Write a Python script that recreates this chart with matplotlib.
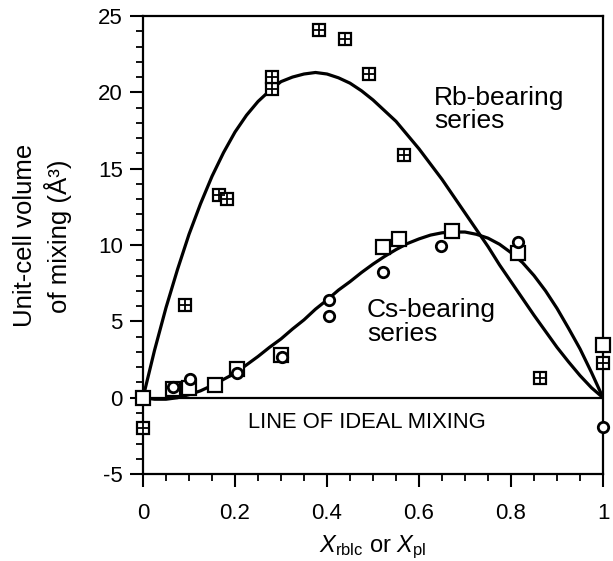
import numpy as np
import matplotlib.pyplot as plt
from matplotlib.ticker import MultipleLocator

plt.rcParams["font.family"] = ["Liberation Sans", "DejaVu Sans"]
plt.rcParams["mathtext.fontset"] = "custom"
plt.rcParams["mathtext.rm"] = "Liberation Sans"
plt.rcParams["mathtext.it"] = "Liberation Sans:italic"
plt.rcParams["axes.unicode_minus"] = False

# Rb-bearing series (crossed squares)
rb_x = [0.0, 0.0, 0.091, 0.165, 0.183, 0.28, 0.28, 0.383, 0.439, 0.491, 0.567, 0.863, 1.0]
rb_v = [0.0, -2.0, 6.1, 13.3, 13.0, 20.2, 21.0, 24.1, 23.5, 21.2, 15.9, 1.3, 2.25]

# Cs-bearing series: open squares and circles
cs_sq_x = [0.0, 0.065, 0.10, 0.157, 0.205, 0.30, 0.522, 0.557, 0.672, 0.815, 1.0]
cs_sq_v = [0.0, 0.6, 0.65, 0.85, 1.9, 2.8, 9.85, 10.4, 10.9, 9.45, 3.45]
cs_ci_x = [0.065, 0.102, 0.205, 0.302, 0.404, 0.404, 0.522, 0.648, 0.815, 1.0]
cs_ci_v = [0.7, 1.25, 1.6, 2.65, 6.4, 5.35, 8.25, 9.95, 10.2, -1.9]

# fitted mixing curves, sampled every 0.025
fit_x = [0.000, 0.025, 0.050, 0.075, 0.100, 0.125, 0.150, 0.175, 0.200, 0.225,
         0.250, 0.275, 0.300, 0.325, 0.350, 0.375, 0.400, 0.425, 0.450, 0.475,
         0.500, 0.525, 0.550, 0.575, 0.600, 0.625, 0.650, 0.675, 0.700, 0.725,
         0.750, 0.775, 0.800, 0.825, 0.850, 0.875, 0.900, 0.925, 0.950, 0.975,
         1.000]
rb_fit = [0.0, 3.1, 5.9, 8.4, 10.7, 12.7, 14.5, 16.05, 17.4, 18.5,
          19.4, 20.1, 20.7, 21.0, 21.2, 21.3, 21.2, 20.95, 20.6, 20.1,
          19.5, 18.8, 18.1, 17.2, 16.3, 15.3, 14.3, 13.2, 12.1, 11.0,
          9.9, 8.7, 7.6, 6.5, 5.4, 4.35, 3.3, 2.35, 1.45, 0.65, 0.0]
cs_fit = [0.0, -0.1, -0.1, 0.0, 0.2, 0.45, 0.8, 1.2, 1.6, 2.15,
          2.7, 3.3, 3.85, 4.5, 5.1, 5.8, 6.4, 7.05, 7.6, 8.2,
          8.75, 9.25, 9.7, 10.1, 10.4, 10.65, 10.8, 10.85, 10.85, 10.7,
          10.45, 10.05, 9.5, 8.85, 8.0, 7.0, 5.85, 4.55, 3.2, 1.65, 0.0]

fig = plt.figure(figsize=(6.13, 5.61), dpi=100)
ax = fig.add_axes([0.2333, 0.155, 0.7504, 0.8165])

# line of ideal mixing
ax.axhline(0, color="black", lw=1.6, zorder=1)

ax.plot(fit_x, rb_fit, color="black", lw=2.3, zorder=2)
ax.plot(fit_x, cs_fit, color="black", lw=2.3, zorder=2)

mk = dict(linestyle="none", color="black", clip_on=False, zorder=3)
ax.plot(rb_x, rb_v, marker="s", ms=9, mfc="white", mec="black", mew=1.6, **mk)
ax.plot(rb_x, rb_v, marker="+", ms=9, mew=1.3, **mk)
ax.plot(cs_sq_x, cs_sq_v, marker="s", ms=10, mfc="white", mec="black", mew=1.6, **mk)
ax.plot(cs_ci_x, cs_ci_v, marker="o", ms=7.5, mfc="white", mec="black", mew=2.0, **mk)

ax.text(0.633, 20.4, "Rb-bearing\nseries", fontsize=19, va="top", ha="left",
        linespacing=0.95)
ax.text(0.487, 6.5, "Cs-bearing\nseries", fontsize=19, va="top", ha="left",
        linespacing=0.95)
ax.text(0.228, -1.6, "LINE OF IDEAL MIXING", fontsize=15.8, va="center", ha="left")

ax.set_xlim(0, 1)
ax.set_ylim(-5, 25)
ax.xaxis.set_minor_locator(MultipleLocator(0.05))
ax.yaxis.set_major_locator(MultipleLocator(5))
ax.yaxis.set_minor_locator(MultipleLocator(1))
ax.set_xticks([0, 0.2, 0.4, 0.6, 0.8, 1.0])
ax.set_xticklabels(["0", "0.2", "0.4", "0.6", "0.8", "1"])

ax.tick_params(which="major", direction="out", length=9.5, width=1.5,
               labelsize=16)
ax.tick_params(axis="x", which="major", pad=11)
ax.tick_params(axis="y", which="major", pad=5)
ax.tick_params(which="minor", direction="out", length=5, width=1.3)
ax.tick_params(top=False, right=False, which="both")
for sp in ax.spines.values():
    sp.set_linewidth(1.6)

ax.set_xlabel(r"$X_{\rm rblc}$ or $X_{\rm pl}$", fontsize=17)
ax.xaxis.set_label_coords(0.5, -0.13)
ax.set_ylabel("Unit-cell volume\nof mixing (Å³)", fontsize=18.5, linespacing=1.3)
ax.yaxis.set_label_coords(-0.155, 0.52)

fig.savefig("out.png", dpi=100)
